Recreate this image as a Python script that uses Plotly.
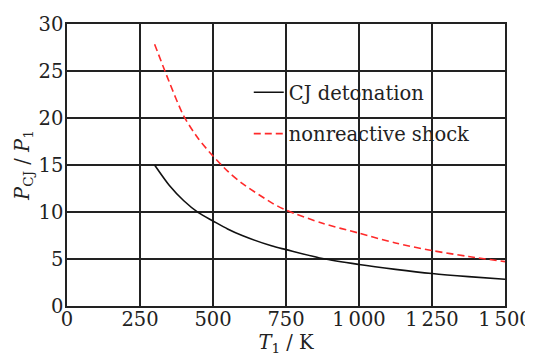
import plotly.graph_objects as go

cj_x = [300, 350, 400, 450, 500, 550, 600, 700, 750, 875, 1000, 1125, 1250, 1375, 1500]
cj_y = [15.0, 12.85, 11.2, 9.93, 9.05, 8.2, 7.5, 6.4, 6.0, 5.05, 4.42, 3.9, 3.45, 3.12, 2.85]

nr_x = [300, 350, 400, 450, 500, 550, 600, 700, 750, 875, 1000, 1125, 1250, 1375, 1500]
nr_y = [27.85, 23.85, 20.2, 17.8, 15.95, 14.35, 13.05, 11.0, 10.2, 8.8, 7.75, 6.7, 5.9, 5.27, 4.72]

x_ticks = [0, 250, 500, 750, 1000, 1250, 1500]
x_tick_labels = ["0", "250", "500", "750", "1\u2009000", "1\u2009250", "1\u2009500"]
y_ticks = [0, 5, 10, 15, 20, 25, 30]

FONT = "DejaVu Serif"
FS = 19.5
INK = "#222222"

fig = go.Figure()
fig.add_trace(go.Scatter(x=cj_x, y=cj_y, mode="lines", name="CJ detonation",
                         line=dict(color="#111111", width=1.6, shape="spline", smoothing=0.8),
                         legendgroup="a"))
fig.add_trace(go.Scatter(x=nr_x, y=nr_y, mode="lines", name="nonreactive shock",
                         line=dict(color="#ff2a2a", width=1.6, dash="7px,4px", shape="spline", smoothing=0.8),
                         legendgroup="b"))

axis_common = dict(showgrid=True, gridcolor=INK, gridwidth=1.5, automargin=False,
                   showline=True, linecolor=INK, linewidth=1.5, mirror=True,
                   zeroline=False, ticks="",
                   tickfont=dict(family=FONT, size=FS, color=INK))

fig.update_xaxes(range=[0, 1500], tickvals=x_ticks, ticktext=x_tick_labels,
                 ticklabelstandoff=-5,
                 title=dict(text="<i>T</i><sub>1</sub> / K", font=dict(family=FONT, size=FS, color=INK),
                            standoff=7),
                 **axis_common)
fig.update_yaxes(range=[0, 30], tickvals=y_ticks, ticklabelstandoff=-2,
                 title=dict(text="<i>P</i><sub>CJ</sub> / <i>P</i><sub>1</sub>",
                            font=dict(family=FONT, size=FS, color=INK), standoff=4),
                 **axis_common)

fig.update_layout(
    template="none",
    width=525, height=348,
    margin=dict(l=59, r=28, t=16, b=50),
    plot_bgcolor="white", paper_bgcolor="white",
    font=dict(family=FONT, size=FS, color=INK),
    legend=dict(x=0.415, y=0.826, xanchor="left", yanchor="top",
                bgcolor="rgba(0,0,0,0)", tracegroupgap=13,
                font=dict(family=FONT, size=FS, color=INK)),
)

fig.write_html("out.html")
